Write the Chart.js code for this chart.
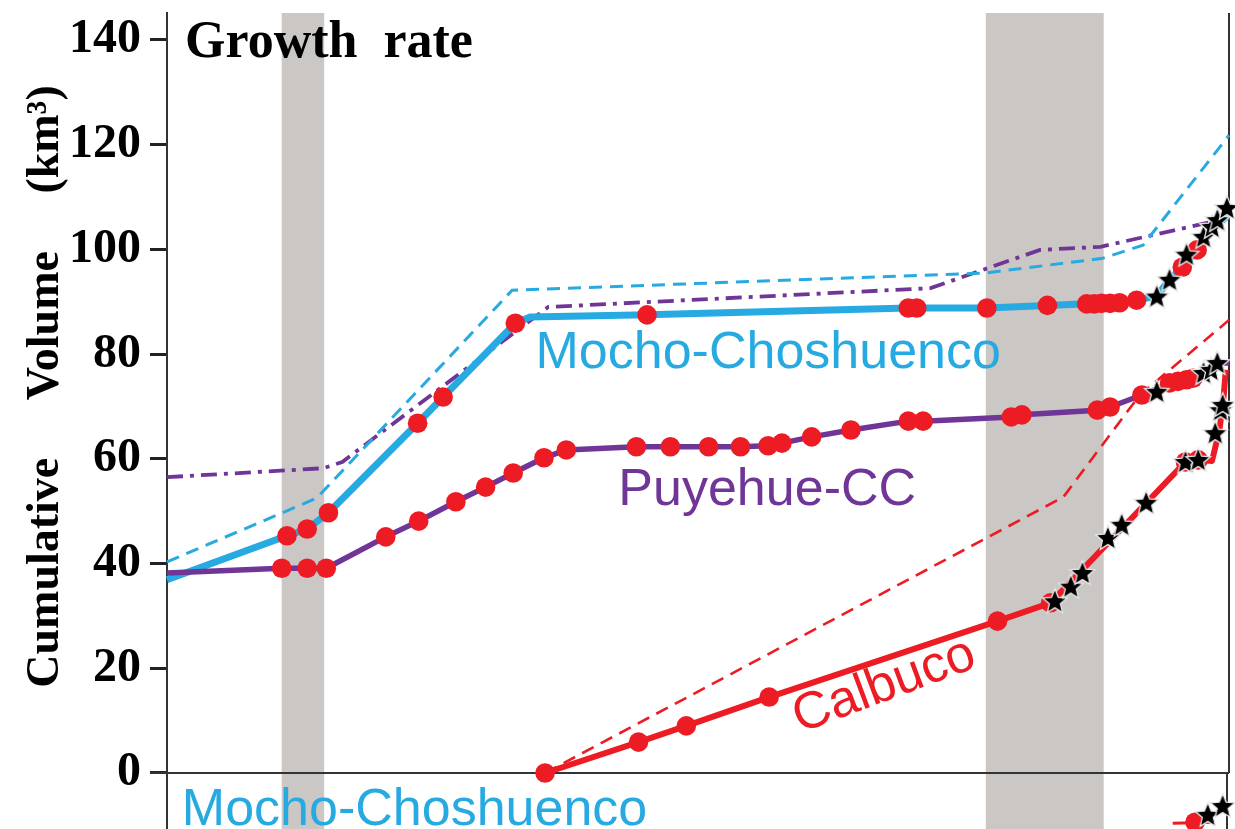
<!DOCTYPE html>
<html>
<head>
<meta charset="utf-8">
<script src="https://cdn.jsdelivr.net/npm/chart.js@4.4.1/dist/chart.umd.min.js"></script>
<style>
  html, body { margin: 0; padding: 0; background: #fff; overflow: hidden; }
  #wrap { width: 1235px; height: 829px; position: relative; }
</style>
</head>
<body>
<div id="wrap"><canvas id="chart"></canvas></div>
<script>
// time runs 0..100 across the panel (no labels in the figure)
const bands = [[10.8, 14.8], [77.1, 88.2]];
const yTicks = [0, 20, 40, 60, 80, 100, 120, 140];

// Mocho-Choshuenco
const mochoDated = [[11.3,45.3],[13.2,46.6],[15.2,49.7],[23.6,66.8],[26.0,71.8],[32.8,85.9],[45.2,87.5],[69.8,88.8],[70.6,88.8],[77.2,88.8],[82.9,89.3],[86.6,89.6],[87.3,89.6],[88.0,89.7],[88.8,89.7],[89.7,89.8],[91.3,90.3],[95.6,96.6],[97.0,99.9]];
const mochoBends = [[0,36.9],[34.2,87.1],[93.2,91.1],[94.4,94.2],[98.4,103.5],[100,106.8]];
const mochoEruptions = [[93.2,91.0],[94.4,94.2],[96.0,99.0],[97.6,102.4],[98.4,104.3],[98.9,105.6],[99.8,107.9]];
const mochoTrend = [[0,40.3],[14.1,52.5],[32.5,92.2],[77.1,95.5],[88.1,98.3],[91.9,100.8],[100,121.8]];

// Puyehue-CC
const puyehueDated = [[10.8,39.1],[13.2,39.1],[15.0,39.1],[20.6,45.1],[23.7,48.1],[27.2,51.8],[30.0,54.6],[32.6,57.3],[35.5,60.2],[37.6,61.7],[44.2,62.3],[47.4,62.3],[51.0,62.3],[54.0,62.3],[56.6,62.5],[57.9,63.0],[60.7,64.2],[64.4,65.5],[69.8,67.2],[71.2,67.2],[79.5,68.0],[80.5,68.4],[87.6,69.3],[88.8,69.9],[91.8,72.2],[94.4,74.5],[95.2,74.8],[96.0,75.1],[96.6,75.4]];
const puyehueBends = [[0,38.2],[97.6,76.4],[98.9,78.3],[100,78.3]];
const puyehueEruptions = [[93.2,72.8],[97.6,76.4],[98.3,77.0],[98.9,78.3]];
const puyehueTrend = [[0,56.5],[14.7,58.2],[16.5,59.4],[35.9,89.0],[71.9,92.6],[82.2,99.9],[87.9,100.5],[100,106.0]];

// Calbuco
const calbucoDated = [[35.6,0],[44.4,5.9],[48.9,9.0],[56.7,14.5],[78.2,29.0],[83.2,32.5],[95.9,59.4],[97.1,59.8]];
const calbucoBends = [[98.4,59.6],[99.1,65.5],[99.5,72.0],[99.7,77.0]];
const calbucoEruptions = [[83.6,32.8],[85.1,35.6],[86.2,38.2],[88.6,44.9],[89.9,47.4],[92.2,51.6],[95.9,59.4],[97.1,59.8],[98.7,64.9],[99.2,69.3],[99.4,70.3]];
const calbucoTrend = [[35.6,0],[84.4,52.7],[91.6,72.2],[100,86.5]];

// top of the next panel, peeking in below the axis
const nextLine = [[94.7,-9.6],[98.5,-9.4]];
const nextDated = [[96.8,-9.4]];
const nextEruptions = [[98.0,-8.0],[99.4,-6.3]];

const BLUE = '#27aae1', PURPLE = '#6f3597', RED = '#ed1c24', BAND = '#cbc7c4', AXIS = '#333';

const pts = arr => arr.map(([x, y]) => ({x, y}));
const path = (...parts) => pts([].concat(...parts).sort((a, b) => a[0] - b[0]));

// filled black star with a light edge
const star = document.createElement('canvas');
star.width = 30; star.height = 30;
(() => {
    const c = star.getContext('2d');
    c.beginPath();
    for (let i = 0; i < 10; i++) {
        const r = i % 2 ? 5.8 : 13;
        const a = -Math.PI / 2 + i * Math.PI / 5;
        c.lineTo(15 + r * Math.cos(a), 15.8 + r * Math.sin(a));
    }
    c.closePath();
    c.fillStyle = '#000';
    c.fill();
    c.strokeStyle = '#e8e8e8';
    c.lineWidth = 1.3;
    c.stroke();
})();

const trend = (data, color, dash, width) => ({
    data: pts(data), showLine: true, borderColor: color, borderWidth: width,
    borderDash: dash, pointRadius: 0, tension: 0, clip: false, order: 6
});
const solid = (data, color, width) => ({
    data: data, showLine: true, borderColor: color, borderWidth: width,
    pointRadius: 0, tension: 0, clip: false, order: 4, borderJoinStyle: 'round'
});
const dots = data => ({
    data: pts(data), showLine: false, pointRadius: 9.8, pointBackgroundColor: RED,
    pointBorderWidth: 0, clip: false, order: 2
});
const stars = data => ({
    data: pts(data), showLine: false, pointStyle: star, clip: false, order: 1
});

const labels = [
    {text: 'Mocho-Choshuenco', x: 34.7, y: 77.3, color: BLUE},
    {text: 'Puyehue-CC', x: 42.5, y: 51.2, color: PURPLE},
    {text: 'Calbuco', x: 59.6, y: 7.6, color: RED, rot: -20.5},
    {text: 'Mocho-Choshuenco', x: 1.4, y: -9.9, color: BLUE}
];

// no auto padding: the panel edges are fixed
const noPad = s => {
    s.paddingTop = s.paddingBottom = s.paddingLeft = s.paddingRight = 0;
};

const decor = {
    id: 'decor',
    beforeDatasetsDraw(chart) {
        const {ctx, scales: {x, y}, chartArea: a} = chart;
        ctx.save();
        ctx.fillStyle = BAND;
        for (const [b0, b1] of bands) {
            const p0 = x.getPixelForValue(b0), p1 = x.getPixelForValue(b1);
            ctx.fillRect(p0, a.top, p1 - p0, chart.height - a.top);
        }
        const y0 = y.getPixelForValue(0);
        ctx.strokeStyle = AXIS;
        ctx.lineWidth = 2;
        ctx.beginPath();
        ctx.moveTo(a.left - 17, y0); ctx.lineTo(a.right, y0);
        ctx.moveTo(a.right, a.top); ctx.lineTo(a.right, y0);
        ctx.moveTo(a.right - 2, y0); ctx.lineTo(a.right - 2, chart.height);
        ctx.stroke();
        ctx.restore();
    },
    afterDatasetsDraw(chart) {
        const {ctx, scales: {x, y}} = chart;
        ctx.save();
        ctx.font = '52px "Liberation Sans", Arial, sans-serif';
        ctx.textBaseline = 'alphabetic';
        ctx.textAlign = 'left';
        for (const l of labels) {
            ctx.save();
            ctx.translate(x.getPixelForValue(l.x), y.getPixelForValue(l.y));
            if (l.rot) ctx.rotate(l.rot * Math.PI / 180);
            ctx.fillStyle = l.color;
            ctx.fillText(l.text, 0, 0);
            ctx.restore();
        }
        ctx.font = 'bold 52px "Liberation Serif", "Times New Roman", serif';
        ctx.fillStyle = '#000';
        ctx.fillText('Growth  rate', x.getPixelForValue(1.7), y.getPixelForValue(136.7));
        ctx.restore();
    }
};

new Chart(document.getElementById('chart'), {
    type: 'scatter',
    data: {
        datasets: [
            trend(mochoTrend, BLUE, [13, 8], 3),
            trend(puyehueTrend, PURPLE, [16, 7, 4, 7], 3.8),
            trend(calbucoTrend, RED, [13, 8], 2.6),
            solid(path(calbucoDated, calbucoBends), RED, 6),
            solid(path(puyehueDated, puyehueBends), PURPLE, 5.5),
            solid(path(mochoDated, mochoBends), BLUE, 7),
            solid(pts(nextLine), RED, 3),
            dots(mochoDated), dots(puyehueDated), dots(calbucoDated), dots(nextDated),
            stars(mochoEruptions), stars(puyehueEruptions), stars(calbucoEruptions), stars(nextEruptions)
        ]
    },
    options: {
        responsive: true,
        maintainAspectRatio: false,
        animation: false,
        events: [],
        layout: { autoPadding: false, padding: { top: 13, right: 6, bottom: 0, left: 0 } },
        plugins: { legend: { display: false }, tooltip: { enabled: false } },
        scales: {
            x: { type: 'linear', min: 0, max: 100, display: false, afterFit: noPad },
            y: {
                type: 'linear', min: -10.7, max: 145.15,
                afterBuildTicks: s => { s.ticks = yTicks.map(v => ({value: v})); },
                afterFit: s => { s.width = 167; noPad(s); },
                grid: { drawOnChartArea: false, drawTicks: true, tickLength: 17, tickWidth: 3, color: '#222' },
                border: { display: true, color: AXIS, width: 2 },
                ticks: {
                    padding: 9, color: '#000',
                    font: { family: '"Liberation Serif", "Times New Roman", serif', size: 48, weight: 'bold' }
                },
                title: {
                    display: true,
                    // leading blanks lift the centred title to where the figure has it
                    text: '      Cumulative     Volume     (km\u00b3)',
                    color: '#000',
                    padding: { top: 19, bottom: 0 },
                    font: { family: '"Liberation Serif", "Times New Roman", serif', size: 46, weight: 'bold' }
                }
            }
        }
    },
    plugins: [decor]
});
</script>
</body>
</html>
